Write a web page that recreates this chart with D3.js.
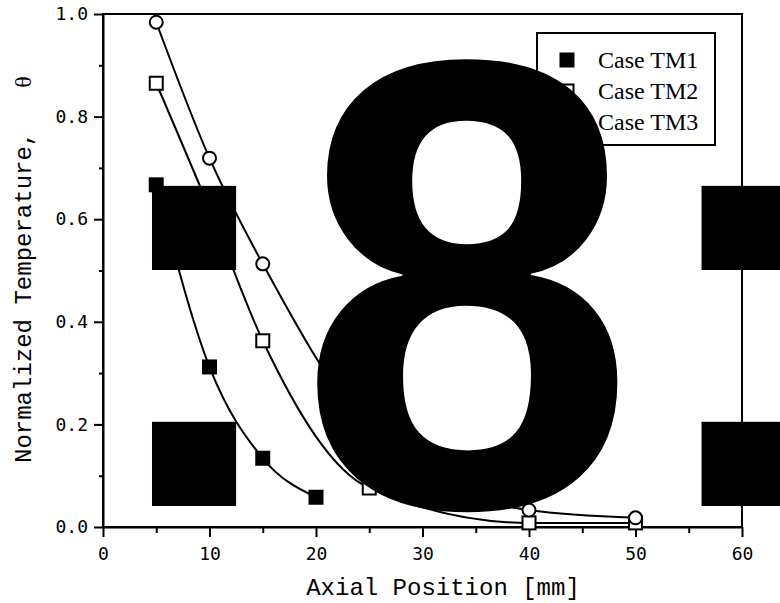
<!DOCTYPE html>
<html>
  <head>
    <meta charset="utf-8">
    <title>Normalized temperature vs axial position</title>
    <script src="https://d3js.org/d3.v7.min.js"></script>
    <style>
      body { margin: 0; background: #fff; }
      .tick text { font-family: "DejaVu Sans Mono", monospace; font-size: 18px; fill: #000; }
      .axis path, .axis line { stroke: #000; stroke-width: 2px; }
      .title { font-family: "Liberation Mono", "Courier New", monospace; font-size: 24px; fill: #000; }
      .legend text { font-family: "Liberation Serif", "Times New Roman", serif; font-size: 24px; fill: #000; }
    </style>
  </head>
  <body>
    <svg width="780" height="603"></svg>
    <script>
      // data
      var seriesNames = ["Case TM1", "Case TM2", "Case TM3"];
      var tm1X = [5, 10, 15, 20];
      var tm1Y = [0.667, 0.312, 0.134, 0.058];
      var tm2X = [5, 10, 15, 25, 40, 50];
      var tm2Y = [0.865, 0.62, 0.363, 0.076, 0.008, 0.008];
      var tm3X = [5, 10, 15, 25, 40, 50];
      var tm3Y = [0.984, 0.719, 0.513, 0.19, 0.033, 0.018];
      var xTicks = [0, 10, 20, 30, 40, 50, 60];
      var xMinor = [5, 15, 25, 35, 45, 55];
      var yTicks = [0, 0.2, 0.4, 0.6, 0.8, 1.0];
      var yMinor = [0.1, 0.3, 0.5, 0.7, 0.9];

      var svg = d3.select("svg"),
        margin = {top: 14, right: 38, bottom: 76, left: 103},
        width = +svg.attr("width") - margin.left - margin.right,
        height = +svg.attr("height") - margin.top - margin.bottom,
        g = svg.append("g").attr("transform", "translate(" + margin.left + "," + margin.top + ")");

      var x = d3.scaleLinear().domain([0, 60]).range([0, width]);
      var y = d3.scaleLinear().domain([0, 1]).range([height, 0]);

      // frame (top + right)
      g.append("rect")
        .attr("width", width).attr("height", height)
        .attr("fill", "none").attr("stroke", "#000").attr("stroke-width", 2);

      // minor ticks
      g.append("g").attr("class", "axis")
        .attr("transform", "translate(0," + height + ")")
        .call(d3.axisBottom(x).tickValues(xMinor).tickSize(6).tickFormat(""))
        .select(".domain").remove();
      g.append("g").attr("class", "axis")
        .call(d3.axisLeft(y).tickValues(yMinor).tickSize(4).tickFormat(""))
        .select(".domain").remove();

      // major axes
      g.append("g").attr("class", "axis")
        .attr("transform", "translate(0," + height + ")")
        .call(d3.axisBottom(x).tickValues(xTicks).tickSize(10).tickSizeOuter(0).tickPadding(10).tickFormat(d3.format("d")));
      g.append("g").attr("class", "axis")
        .call(d3.axisLeft(y).tickValues(yTicks).tickSize(9).tickSizeOuter(0).tickPadding(6).tickFormat(d3.format(".1f")));

      // axis titles
      svg.append("text").attr("class", "title")
        .attr("x", 443).attr("y", 595)
        .attr("text-anchor", "middle")
        .text("Axial Position [mm]");

      var yt = svg.append("text").attr("class", "title")
        .attr("transform", "translate(31,463) rotate(-90)");
      yt.append("tspan").text("Normalized Temperature,");
      yt.append("tspan").attr("dx", 44)
        .style("font-family", "'Liberation Serif', serif").text("θ");

      // curves
      var line = d3.line()
        .x(function(d) { return x(d[0]); })
        .y(function(d) { return y(d[1]); })
        .curve(d3.curveMonotoneX);

      var series = [
        {name: seriesNames[0], pts: d3.zip(tm1X, tm1Y), shape: "square", fill: "#000"},
        {name: seriesNames[1], pts: d3.zip(tm2X, tm2Y), shape: "square", fill: "#fff"},
        {name: seriesNames[2], pts: d3.zip(tm3X, tm3Y), shape: "circle", fill: "#fff"}
      ];

      series.forEach(function(s) {
        g.append("path")
          .datum(s.pts)
          .attr("fill", "none")
          .attr("stroke", "#000")
          .attr("stroke-width", 2)
          .attr("d", line);
      });

      function drawMarker(sel, s, cx, cy) {
        if (s.shape === "circle") {
          sel.append("circle").attr("cx", cx).attr("cy", cy).attr("r", 6.5)
            .attr("fill", s.fill).attr("stroke", "#000").attr("stroke-width", 2);
        } else {
          sel.append("rect").attr("x", cx - 6.5).attr("y", cy - 6.5)
            .attr("width", 13).attr("height", 13)
            .attr("fill", s.fill).attr("stroke", "#000").attr("stroke-width", 2);
        }
      }

      series.forEach(function(s) {
        var mg = g.append("g");
        s.pts.forEach(function(p) { drawMarker(mg, s, x(p[0]), y(p[1])); });
      });

      // legend
      var legend = svg.append("g").attr("class", "legend");
      legend.append("rect")
        .attr("x", 537).attr("y", 33).attr("width", 178).attr("height", 112)
        .attr("fill", "#fff").attr("stroke", "#000").attr("stroke-width", 2);
      series.forEach(function(s, i) {
        var ly = 60 + i * 31;
        drawMarker(legend, s, 567, ly);
        legend.append("text").attr("x", 598).attr("y", ly + 8).text(s.name);
      });

      // overlay blocks and the big "8" printed over the figure
      var blocks = [[4.6, 12.5, 0.665, 0.501], [4.6, 12.5, 0.205, 0.041],
                    [56.2, 64, 0.665, 0.501], [56.2, 64, 0.205, 0.041]];
      blocks.forEach(function(b) {
        g.append("rect")
          .attr("x", x(b[0])).attr("y", y(b[2]))
          .attr("width", x(b[1]) - x(b[0])).attr("height", y(b[3]) - y(b[2]))
          .attr("fill", "#000");
      });
      svg.append("text")
        .attr("transform", "translate(467,506) scale(0.95,1)")
        .attr("text-anchor", "middle")
        .style("font-family", "'Liberation Sans', Arial, sans-serif")
        .style("font-weight", "bold")
        .style("font-size", "640px")
        .attr("fill", "#000")
        .text("8");
    </script>
  </body>
</html>
